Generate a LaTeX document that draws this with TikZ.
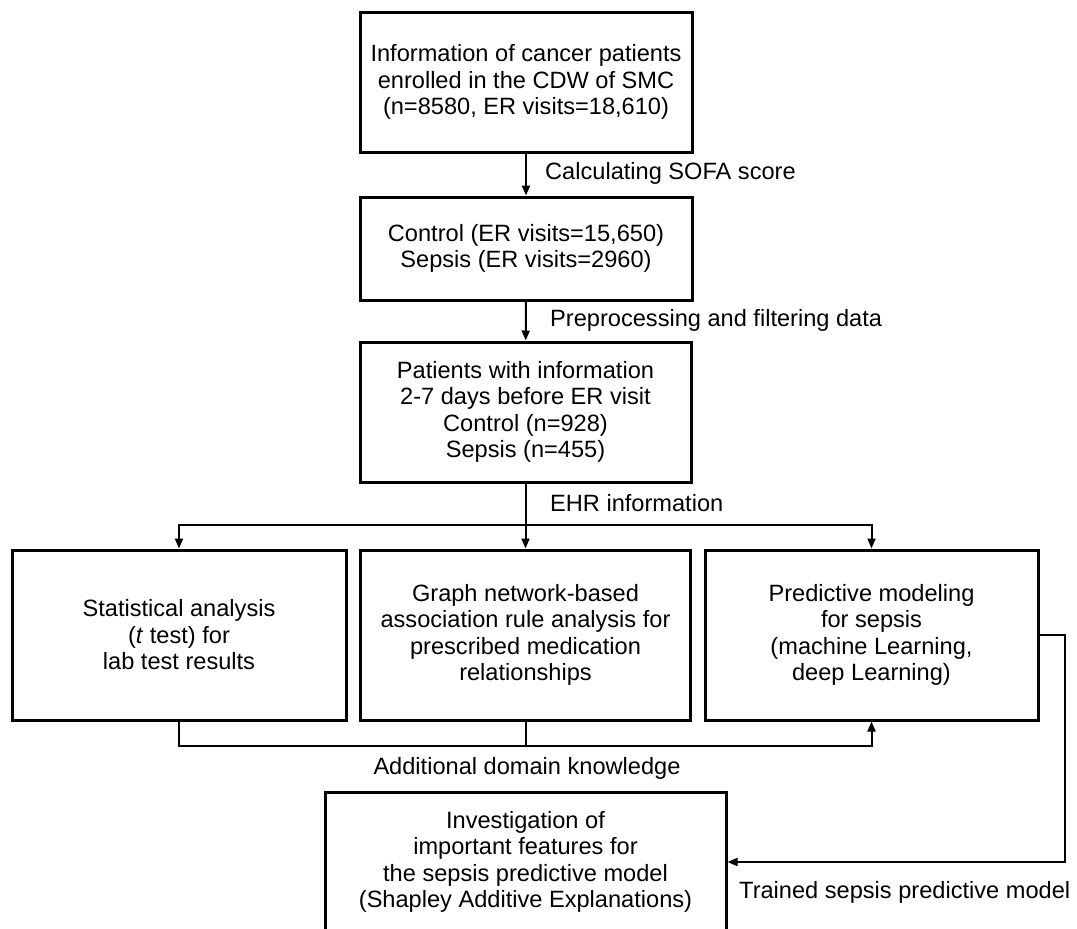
\documentclass[tikz,border=0pt]{standalone}
\usepackage{fontspec}
\setmainfont{Liberation Sans}
\usetikzlibrary{arrows.meta}

\begin{document}
\begin{tikzpicture}[x=1pt, y=-1pt, >={Triangle[length=10pt,width=8pt]},
    every node/.style={font=\fontsize{23.6}{26.5}\selectfont, align=center, inner sep=0pt},
    box/.style={draw, line width=3pt, minimum height=140pt},
    link/.style={line width=2pt}]
    \useasboundingbox (0,0) rectangle (1077,929);

    % 上段の流れ (cohort selection)
    \node[box, minimum width=332pt] (info) at (526, 82) {Information of cancer patients\\enrolled in the CDW of SMC\\(n=8580, ER visits=18,610)};
    \node[box, minimum width=332pt, minimum height=103pt] (groups) at (526, 248.5) {Control (ER visits=15,650)\\Sepsis (ER visits=2960)};
    \node[box, minimum width=331pt] (cohort) at (525.5, 412) {Patients with information\\2-7 days before ER visit\\Control (n=928)\\Sepsis (n=455)};

    \draw[link, ->] (info) -- (groups);
    \node[anchor=west] (sofa) at (545, 173) {Calculating SOFA score};
    \draw[link, ->] (groups) -- (cohort);
    \node[anchor=west] (prep) at (550, 320) {Preprocessing and filtering data};

    % 3つの解析 (analyses)
    \node[box, minimum width=334pt, minimum height=170pt] (stat) at (179, 635) {Statistical analysis\\(\textit{t} test) for\\lab test results};
    \node[box, minimum width=330pt, minimum height=170pt] (assoc) at (525.5, 635) {Graph network-based\\association rule analysis for\\prescribed medication\\relationships};
    \node[box, minimum width=333pt, minimum height=170pt] (pred) at (871.5, 635) {Predictive modeling\\for sepsis\\(machine Learning,\\deep Learning)};

    \draw[link, ->] (cohort) -- (assoc);
    \draw[link, ->] (cohort.south) -- ++(0, 41) -| (stat.north);
    \draw[link, ->] (cohort.south) -- ++(0, 41) -| (pred.north);
    \node[anchor=west] (ehr) at (550, 503) {EHR information};

    % domain knowledge feedback
    \draw[link, ->] (stat.south) -- ++(0, 24) -| (pred.south);
    \draw[link] (assoc.south) -- ++(0, 24);
    \node (domain) at (527, 768) {Additional domain knowledge};

    % SHAP
    \node[box, minimum width=401pt] (shap) at (525.5, 862) {Investigation of\\important features for\\the sepsis predictive model\\(Shapley Additive Explanations)};
    \draw[link, ->] (pred.east) -- ++(25, 0) |- (shap.east);
    \node[anchor=west] (trained) at (739, 892) {Trained sepsis predictive model};
\end{tikzpicture}
\end{document}
